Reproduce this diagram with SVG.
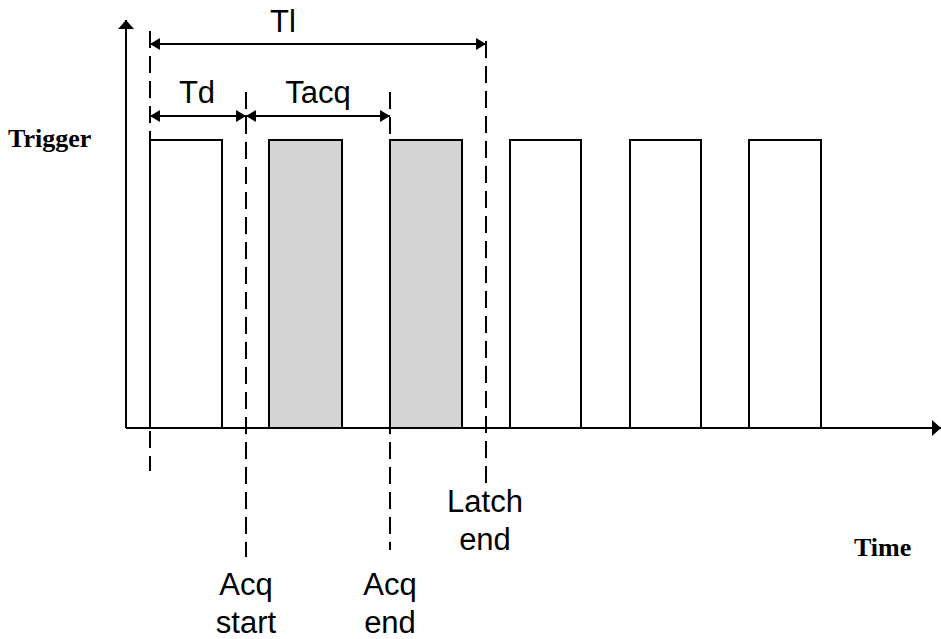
<svg xmlns="http://www.w3.org/2000/svg" width="941" height="639" viewBox="0 0 941 639">
<style>
.ax{stroke:#000;stroke-width:2;fill:none}
.pulse{stroke:#000;stroke-width:2;fill:none}
.acq{stroke:#000;stroke-width:2;fill:#d4d4d4}
.dash{stroke:#000;stroke-width:2;fill:none;stroke-dasharray:17 8}
.dim{stroke:#000;stroke-width:2;fill:none}
.lbl{font-family:"Liberation Sans",Arial,sans-serif;font-size:31px;fill:#000}
.ttl{font-family:"Liberation Serif","Times New Roman",serif;font-size:26px;font-weight:bold;fill:#000}
</style>
<defs>
<marker id="ah" viewBox="0 0 10 12" refX="10" refY="6" markerWidth="10" markerHeight="12" markerUnits="userSpaceOnUse" orient="auto-start-reverse">
<path d="M0,0 L10,6 L0,12 Z" fill="#000"/>
</marker>
<marker id="axh" viewBox="0 0 9 16" refX="9" refY="8" markerWidth="9" markerHeight="16" markerUnits="userSpaceOnUse" orient="auto">
<path d="M0,0 L9,8 L0,16 Z" fill="#000"/>
</marker>
</defs>
<g id="axes">
<line class="ax" x1="126" y1="428" x2="126" y2="20" marker-end="url(#axh)"/>
<line class="ax" x1="126" y1="428" x2="941" y2="428" marker-end="url(#axh)"/>
</g>
<g id="pulses">
<g id="pulse1"><polyline class="pulse" points="150,428 150,140 222,140 222,428"/></g>
<g id="pulse2"><rect class="acq" x="269" y="140" width="73" height="288"/></g>
<g id="pulse3"><rect class="acq" x="390" y="140" width="72" height="288"/></g>
<g id="pulse4"><polyline class="pulse" points="510,428 510,140 581,140 581,428"/></g>
<g id="pulse5"><polyline class="pulse" points="630,428 630,140 701,140 701,428"/></g>
<g id="pulse6"><polyline class="pulse" points="749,428 749,140 821,140 821,428"/></g>
</g>
<g id="connectors">
<line class="dash" x1="150" y1="31" x2="150" y2="471"/>
<line class="dash" x1="246" y1="92" x2="246" y2="557"/>
<line class="dash" x1="390" y1="92" x2="390" y2="550"/>
<line class="dash" x1="486" y1="41" x2="486" y2="484"/>
<line class="dim" x1="150" y1="44" x2="486" y2="44" marker-start="url(#ah)" marker-end="url(#ah)"/>
<line class="dim" x1="150" y1="116" x2="246" y2="116" marker-start="url(#ah)" marker-end="url(#ah)"/>
<line class="dim" x1="246" y1="116" x2="390" y2="116" marker-start="url(#ah)" marker-end="url(#ah)"/>
</g>
<g id="labels">
<text class="lbl" x="283" y="32" text-anchor="middle">Tl</text>
<text class="lbl" x="197" y="103" text-anchor="middle">Td</text>
<text class="lbl" x="318" y="103" text-anchor="middle">Tacq</text>
<text class="ttl" x="8" y="147">Trigger</text>
<text class="ttl" x="854" y="556">Time</text>
<text class="lbl" x="485" y="512" text-anchor="middle">Latch</text>
<text class="lbl" x="485" y="550" text-anchor="middle">end</text>
<text class="lbl" x="246" y="595" text-anchor="middle">Acq</text>
<text class="lbl" x="246" y="633" text-anchor="middle">start</text>
<text class="lbl" x="390" y="595" text-anchor="middle">Acq</text>
<text class="lbl" x="390" y="633" text-anchor="middle">end</text>
</g>
</svg>
